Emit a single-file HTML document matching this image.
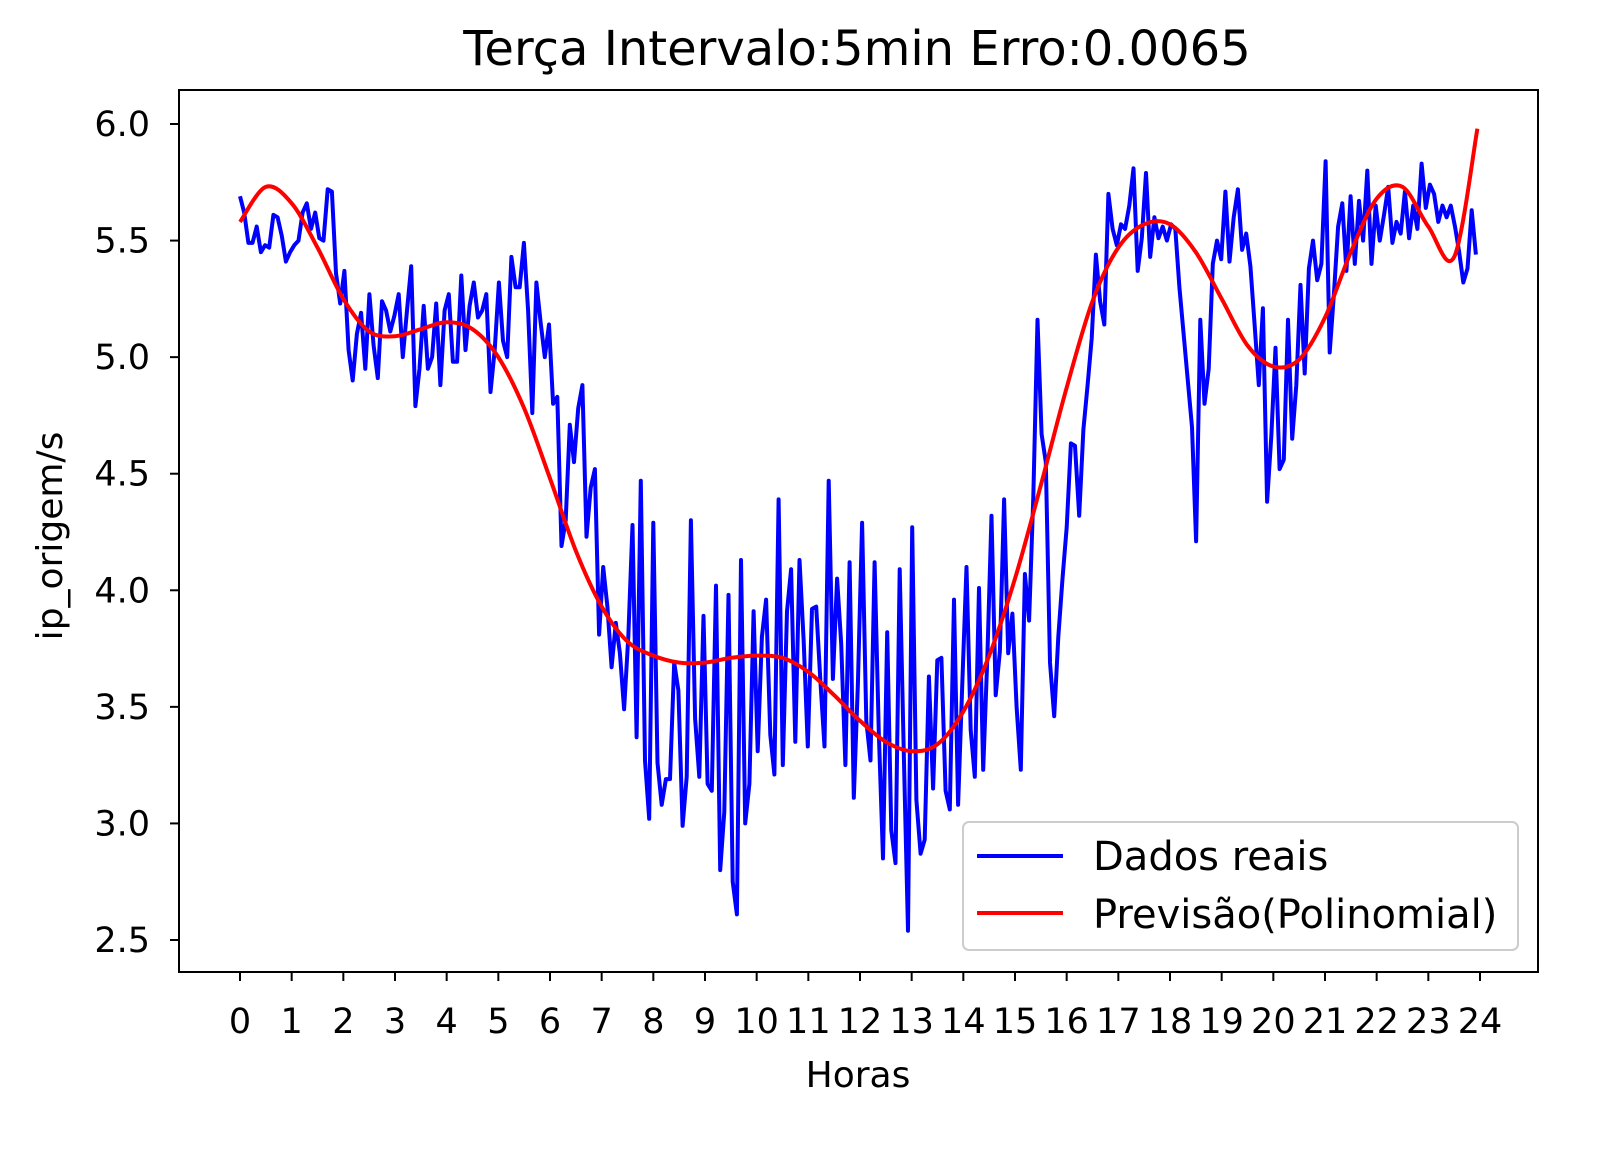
<!DOCTYPE html>
<html><head><meta charset="utf-8"><style>
html,body{margin:0;padding:0;background:#fff;}
svg{display:block;font-family:"DejaVu Sans","Liberation Sans",sans-serif;}
</style></head><body>
<svg id="chart" width="1608" height="1154" viewBox="0 0 1608 1154" xmlns="http://www.w3.org/2000/svg">
<rect width="1608" height="1154" fill="#fff"/>
<text x="857" y="65" font-size="48" text-anchor="middle" fill="#000">Terça Intervalo:5min Erro:0.0065</text>
<g id="xticks"></g>
<g id="yticks"></g>
<g id="series"></g>
<rect x="179" y="90" width="1359" height="882" fill="none" stroke="#000" stroke-width="2"/>
<text x="858" y="1087" font-size="36" text-anchor="middle">Horas</text>
<text transform="translate(62,536) rotate(-90)" font-size="36" text-anchor="middle">ip_origem/s</text>
<g>
<rect x="963" y="822" width="555" height="128" rx="6" fill="#fff" stroke="#ccc" stroke-width="2"/>
<line x1="977" y1="856" x2="1063" y2="856" stroke="#0000ff" stroke-width="4"/>
<text x="1093" y="870" font-size="40">Dados reais</text>
<line x1="977" y1="913" x2="1063" y2="913" stroke="#ff0000" stroke-width="4"/>
<text x="1093" y="928" font-size="40">Previsão(Polinomial)</text>
</g>
</svg>
<script>
const xTickLabels = ["0","1","2","3","4","5","6","7","8","9","10","11","12","13","14","15","16","17","18","19","20","21","22","23","24"];
const yTickLabels = ["2.5","3.0","3.5","4.0","4.5","5.0","5.5","6.0"];
const realEndHour = 23.92;
const realValues = [5.69,5.62,5.49,5.49,5.56,5.45,5.48,5.47,5.61,5.60,5.52,5.41,5.45,5.48,5.50,5.62,5.66,5.55,5.62,5.51,5.50,5.72,5.71,5.36,5.23,5.37,5.03,4.90,5.10,5.19,4.95,5.27,5.05,4.91,5.24,5.20,5.11,5.18,5.27,5.00,5.20,5.39,4.79,4.95,5.22,4.95,5.00,5.23,4.88,5.20,5.27,4.98,4.98,5.35,5.03,5.22,5.32,5.17,5.20,5.27,4.85,5.03,5.32,5.07,5.00,5.43,5.30,5.30,5.49,5.20,4.76,5.32,5.15,5.00,5.14,4.80,4.83,4.19,4.30,4.71,4.55,4.78,4.88,4.23,4.44,4.52,3.81,4.10,3.93,3.67,3.86,3.73,3.49,3.80,4.28,3.37,4.47,3.27,3.02,4.29,3.26,3.08,3.19,3.19,3.69,3.57,2.99,3.20,4.30,3.45,3.20,3.89,3.17,3.14,4.02,2.80,3.05,3.98,2.75,2.61,4.13,3.00,3.17,3.91,3.31,3.80,3.96,3.38,3.21,4.39,3.25,3.91,4.09,3.35,4.13,3.78,3.33,3.92,3.93,3.61,3.33,4.47,3.62,4.05,3.77,3.25,4.12,3.11,3.60,4.29,3.44,3.27,4.12,3.39,2.85,3.82,2.97,2.83,4.09,3.28,2.54,4.27,3.10,2.87,2.93,3.63,3.15,3.70,3.71,3.14,3.06,3.96,3.08,3.60,4.10,3.40,3.20,4.01,3.23,3.72,4.32,3.55,3.74,4.39,3.73,3.90,3.50,3.23,4.07,3.87,4.40,5.16,4.67,4.55,3.69,3.46,3.80,4.05,4.27,4.63,4.62,4.32,4.69,4.88,5.08,5.44,5.24,5.14,5.70,5.55,5.48,5.57,5.55,5.65,5.81,5.37,5.51,5.79,5.43,5.60,5.51,5.56,5.50,5.57,5.55,5.30,5.10,4.90,4.70,4.21,5.16,4.80,4.95,5.40,5.50,5.42,5.71,5.41,5.60,5.72,5.46,5.53,5.39,5.14,4.88,5.21,4.38,4.66,5.04,4.52,4.56,5.16,4.65,4.88,5.31,4.93,5.38,5.50,5.33,5.40,5.84,5.02,5.27,5.56,5.66,5.37,5.69,5.40,5.67,5.50,5.80,5.40,5.65,5.50,5.61,5.73,5.49,5.58,5.53,5.71,5.51,5.65,5.55,5.83,5.64,5.74,5.70,5.58,5.65,5.60,5.65,5.56,5.45,5.32,5.38,5.63,5.44];
const predHours = [0,0.5,1,1.5,2,2.5,3,3.5,4,4.5,5,5.5,6,6.5,7,7.5,8,8.5,9,9.5,10,10.5,11,11.5,12,12.5,13,13.5,14,14.5,15,15.5,16,16.5,17,17.5,18,18.5,19,19.5,20,20.5,21,21.5,22,22.5,23,23.5,23.95];
const predValues = [5.58,5.73,5.66,5.47,5.25,5.11,5.09,5.12,5.15,5.12,5.00,4.78,4.48,4.17,3.93,3.78,3.72,3.69,3.69,3.71,3.72,3.71,3.65,3.55,3.44,3.35,3.31,3.34,3.48,3.72,4.05,4.45,4.87,5.24,5.47,5.57,5.57,5.45,5.25,5.05,4.96,4.99,5.17,5.45,5.68,5.73,5.56,5.43,5.98];

const NS = "http://www.w3.org/2000/svg";
const X0 = 240, XPH = (1480 - 240) / 24;
const Y6 = 124, YPU = (940 - 124) / 3.5;
function xs(h){ return X0 + h * XPH; }
function ys(v){ return Y6 + (6 - v) * YPU; }

const xg = document.getElementById('xticks');
xTickLabels.forEach(function(lbl){
  const h = parseFloat(lbl), x = xs(h);
  const t = document.createElementNS(NS,'line');
  t.setAttribute('x1',x); t.setAttribute('x2',x); t.setAttribute('y1',972); t.setAttribute('y2',981);
  t.setAttribute('stroke','#000'); t.setAttribute('stroke-width','2');
  
  
  xg.appendChild(t);
  const tx = document.createElementNS(NS,'text');
  tx.setAttribute('x',x); tx.setAttribute('y',1033); tx.setAttribute('font-size','35'); tx.setAttribute('text-anchor','middle');
  tx.textContent = lbl;
  
  
  xg.appendChild(tx);
});
const yg = document.getElementById('yticks');
yTickLabels.forEach(function(lbl){
  const y = ys(parseFloat(lbl));
  const t = document.createElementNS(NS,'line');
  t.setAttribute('x1',170); t.setAttribute('x2',179); t.setAttribute('y1',y); t.setAttribute('y2',y);
  t.setAttribute('stroke','#000'); t.setAttribute('stroke-width','2');
  
  
  yg.appendChild(t);
  const tx = document.createElementNS(NS,'text');
  tx.setAttribute('x',150); tx.setAttribute('y',y+12); tx.setAttribute('font-size','35'); tx.setAttribute('text-anchor','end');
  tx.textContent = lbl;
  
  
  yg.appendChild(tx);
});

const sg = document.getElementById('series');
const n = realValues.length;
let d = '';
realValues.forEach(function(v,i){
  const h = i * realEndHour / (n - 1);
  d += (i ? 'L' : 'M') + xs(h).toFixed(1) + ',' + ys(v).toFixed(1);
});
const real = document.createElementNS(NS,'path');
real.setAttribute('d', d); real.setAttribute('fill','none'); real.setAttribute('stroke','#0000ff');
real.setAttribute('stroke-width','4'); real.setAttribute('stroke-linejoin','round');


sg.appendChild(real);

const pts = predHours.map(function(h,i){ return [xs(h), ys(predValues[i])]; });
let pd = 'M' + pts[0][0] + ',' + pts[0][1];
for (let i = 0; i < pts.length - 1; i++) {
  const p0 = pts[Math.max(0,i-1)], p1 = pts[i], p2 = pts[i+1], p3 = pts[Math.min(pts.length-1,i+2)];
  const c1x = p1[0] + (p2[0]-p0[0])/6, c1y = p1[1] + (p2[1]-p0[1])/6;
  const c2x = p2[0] - (p3[0]-p1[0])/6, c2y = p2[1] - (p3[1]-p1[1])/6;
  pd += 'C' + c1x.toFixed(1)+','+c1y.toFixed(1)+' '+c2x.toFixed(1)+','+c2y.toFixed(1)+' '+p2[0].toFixed(1)+','+p2[1].toFixed(1);
}
const pred = document.createElementNS(NS,'path');
pred.setAttribute('d', pd); pred.setAttribute('fill','none'); pred.setAttribute('stroke','#ff0000');
pred.setAttribute('stroke-width','4');


sg.appendChild(pred);
</script>
</body></html>
